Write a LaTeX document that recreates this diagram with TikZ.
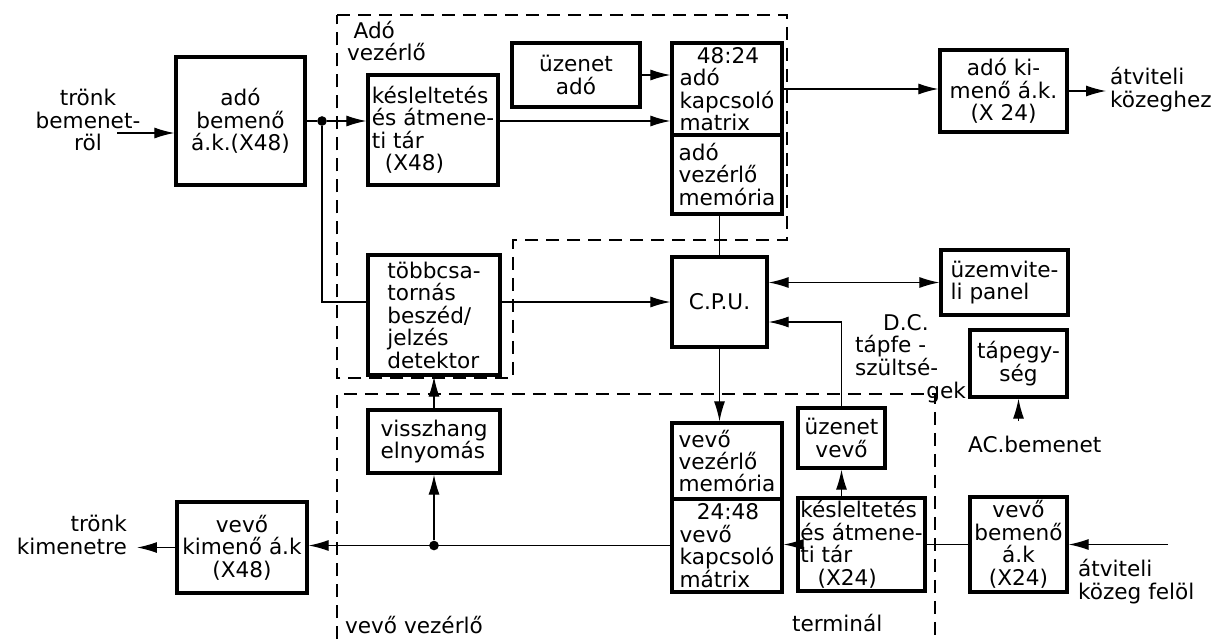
\documentclass[tikz,border=0pt]{standalone}
\usepackage{fontspec}
\setmainfont{DejaVu Sans}
\usetikzlibrary{arrows.meta,calc}

\begin{document}
\begin{tikzpicture}[x=0.02cm, y=-0.02cm,
  blk/.style={draw, line width=1.9pt, inner sep=1pt, align=left, font=\fontsize{12.3}{12.8}\selectfont},
  arr/.style={-{Latex[length=4mm,width=2.2mm]}, line width=0.7pt},
  dbl/.style={{Latex[length=4mm,width=2.2mm]}-{Latex[length=4mm,width=2.2mm]}, line width=0.7pt},
  ln/.style={line width=0.7pt},
  grp/.style={dash pattern=on 0.26cm off 0.16cm, line width=0.8pt},
  lbl/.style={font=\fontsize{12.3}{13}\selectfont, inner sep=1pt},
  jn/.style={circle, fill, inner sep=0pt, minimum size=5.5pt}]
\useasboundingbox (0,0) rectangle (1222,639);

\draw[grp] (337,15) -- (787,15) -- (787,240) -- (513,240) -- (513,378) -- (337,378) -- cycle;
\draw[grp] (337,639) -- (337,394) -- (935,394) -- (935,639);

\node[blk, align=center, minimum width=2.58cm, minimum height=2.56cm] (adoBe) at (240.5,121) {adó\\bemenő\\á.k.(X48)};
\node[blk, minimum width=2.6cm, minimum height=2.2cm] (kesAdo) at (433,130) {késleltetés\\és átmene-\\ti tár\\\hspace{0.6em}(X48)};
\node[blk, align=center, minimum width=2.56cm, minimum height=1.28cm] (uzAdo) at (576,75) {üzenet\\adó};
\node[blk, minimum width=2.2cm, minimum height=1.84cm] (matAdo) at (727,89) {\hspace{0.8em}48:24\\adó\\kapcsoló\\matrix};
\node[blk, minimum width=2.2cm, minimum height=1.58cm] (memAdo) at (727,174.5) {adó\\vezérlő\\memória};
\node[blk, align=center, minimum width=2.54cm, minimum height=1.64cm] (kiAdo) at (1003.5,91) {adó ki-\\menő á.k.\\(X 24)};
\node[blk, minimum width=2.54cm, minimum height=1.3cm] (uzemv) at (1004.5,282.5) {üzemvite-\\li panel};
\node[blk, align=center, minimum width=1.9cm, minimum height=1.8cm] (cpu) at (719.5,302) {C.P.U.};
\node[blk, minimum width=2.64cm, minimum height=2.4cm] (tobb) at (434,315) {többcsa-\\tornás\\beszéd/\\jelzés\\detektor};
\node[blk, align=center, minimum width=1.94cm, minimum height=1.34cm] (tap) at (1018.5,363.5) {tápegy-\\ség};
\node[blk, minimum width=2.64cm, minimum height=1.26cm] (vissz) at (434,441.5) {visszhang\\elnyomás};
\node[blk, align=center, minimum width=1.74cm, minimum height=1.2cm] (uzVevo) at (841.5,438) {üzenet\\vevő};
\node[blk, minimum width=2.2cm, minimum height=1.52cm] (memVevo) at (727,461) {vevő\\vezérlő\\memória};
\node[blk, minimum width=2.2cm, minimum height=1.86cm] (matVevo) at (727,545.5) {\hspace{0.8em}24:48\\vevő\\kapcsoló\\mátrix};
\node[blk, minimum width=2.54cm, minimum height=1.86cm] (kesVevo) at (861.5,544.5) {késleltetés\\és átmene-\\ti tár\\\hspace{0.8em}(X24)};
\node[blk, align=center, minimum width=1.94cm, minimum height=1.9cm] (beVevo) at (1018.5,544.5) {vevő\\bemenő\\á.k\\(X24)};
\node[blk, align=center, minimum width=2.6cm, minimum height=1.82cm] (kiVevo) at (242,547.5) {vevő\\kimenő á.k\\(X48)};

\node[jn] (j1) at (322,121) {};
\node[jn] (j2) at (vissz.south |- matVevo.west) {};
\coordinate (in1) at (117,133);
\coordinate (out1) at (1106,91);
\coordinate (out2) at (137,547.5);
\coordinate (in2) at (1168,544.5);
\coordinate (ac) at (1018.5,421);

\node[lbl, align=center] (tIn) at (88,120) {trönk\\bemenet-\\röl};
\node[lbl, align=right, anchor=east] (tOut) at (129,535) {trönk\\kimenetre};
\node[lbl, align=left, anchor=west] (tKoz1) at (1108,90) {átviteli\\közeghez};
\node[lbl, align=left, anchor=west] (tKoz2) at (1076,582) {átviteli\\közeg felöl};
\node[lbl, anchor=west] (tAC) at (966,444) {AC.bemenet};
\node[lbl, align=left, anchor=north west] (tDC) at (853,312) {\hspace{1.3em}D.C.\\tápfe -\\szültsé-\\\hspace{3.3em}gek};
\node[lbl, align=left, anchor=west] (tAdoV) at (345,41) {\hspace{0.3em}Adó\\vezérlő};
\node[lbl, anchor=west] (tVevoV) at (343,625) {vevő vezérlő};
\node[lbl, anchor=west] (tTerm) at (790,623) {terminál};

\draw[arr] (in1) -- (in1 -| adoBe.west);
\draw[ln] (adoBe.east) -- (j1);
\draw[arr] (j1) -- (j1 -| kesAdo.west);
\draw[ln] (j1) |- (tobb.west |- cpu.west);
\draw[arr] (kesAdo.east |- j1) -- (matAdo.west |- j1);
\foreach \a/\b in {uzAdo/matAdo, matAdo/kiAdo}{\draw[arr] (\a.east) -- (\a.east -| \b.west);}
\draw[arr] (kiAdo.east) -- (out1);
\draw[ln] (memAdo.south -| cpu.north) -- (cpu.north);
\draw[arr] (cpu.south) -- (cpu.south |- memVevo.north);
\draw[arr] (tobb.east |- cpu.west) -- (cpu.west);
\draw[dbl] (cpu.east |- uzemv.west) -- (uzemv.west);
\draw[arr] (uzVevo.north) |- ([yshift=-0.4cm]cpu.east);
\draw[arr] (uzVevo.south |- kesVevo.north) -- (uzVevo.south);
\draw[arr] (kesVevo.west) -- (matVevo.east |- kesVevo.west);
\draw[ln] (beVevo.west) -- (kesVevo.east |- beVevo.west);
\draw[arr] (in2) -- (beVevo.east);
\draw[arr] (matVevo.west) -- (matVevo.west -| kiVevo.east);
\foreach \a/\b in {j2/vissz.south, vissz.north/tobb.south, kiVevo.west/out2, ac/tap.south}{\draw[arr] (\a) -- (\b);}
\end{tikzpicture}
\end{document}
